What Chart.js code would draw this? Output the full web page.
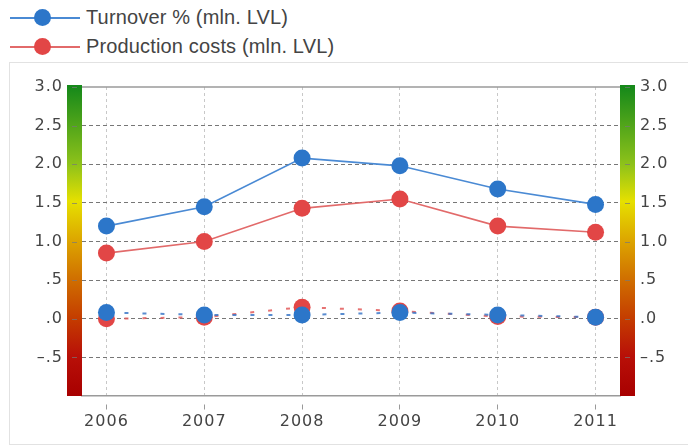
<!DOCTYPE html>
<html>
<head>
<meta charset="utf-8">
<script src="https://cdn.jsdelivr.net/npm/chart.js@4.4.1/dist/chart.umd.min.js"></script>
<style>
    body { margin:0; background:#fff; width:688px; height:446px; overflow:hidden; position:relative; font-family:"Liberation Sans", Arial, sans-serif; }
    .panel { position:absolute; left:9px; top:62px; width:700px; height:383px; border:1px solid #e2e2e2; box-sizing:border-box; }
    .legend { position:absolute; left:10px; top:3px; }
    .legend-item { display:flex; align-items:center; height:29px; font-size:20px; letter-spacing:0.15px; color:#444; }
    .swatch { position:relative; width:70px; height:18px; margin-right:6px; }
    .swatch .ln { position:absolute; left:0; right:0; top:8px; height:2px; }
    .swatch .dot { position:absolute; left:24px; top:0; width:17px; height:17px; border-radius:50%; }
    #wrap { position:absolute; left:0; top:0; width:688px; height:446px; }
</style>
</head>
<body>
<div class="panel"></div>
<div class="legend">
    <div class="legend-item"><div class="swatch"><div class="ln" style="background:#4a8ad4"></div><div class="dot" style="background:#2c76c9"></div></div>Turnover % (mln. LVL)</div>
    <div class="legend-item"><div class="swatch"><div class="ln" style="background:#e26a6a"></div><div class="dot" style="background:#e24646"></div></div>Production costs (mln. LVL)</div>
</div>
<div id="wrap"><canvas id="chart"></canvas></div>
<script>
// ===== data =====
const years = [2006, 2007, 2008, 2009, 2010, 2011];
const turnover = [1.2, 1.45, 2.08, 1.98, 1.68, 1.48];
const costs = [0.85, 1.0, 1.43, 1.55, 1.2, 1.12];
const turnoverLow = [0.08, 0.05, 0.05, 0.08, 0.05, 0.02];
const costsLow = [0.0, 0.02, 0.15, 0.1, 0.03, 0.02];
const yTicks = [-1.0, -0.5, 0.0, 0.5, 1.0, 1.5, 2.0, 2.5, 3.0];

const BLUE = '#2c76c9', RED = '#e24646';
const pts = arr => arr.map((v, i) => ({ x: years[i], y: v }));

function tickLabel(v) {
    if (v === -1) return '';
    let s = Math.abs(v).toFixed(1);
    if (s.startsWith('0')) s = s.slice(1);
    return (v < 0 ? '\u2013' : '') + s;
}

// gradient bars on both sides + frame lines
const framePlugin = {
    id: 'frame',
    beforeDraw(chart) {
        chart.ctx.letterSpacing = '1px';
    },
    beforeDatasetsDraw(chart) {
        const { ctx, chartArea: a, scales } = chart;
        const y = scales.y;
        const barW = 15;
        const grad = ctx.createLinearGradient(0, a.top, 0, a.bottom);
        grad.addColorStop(0, '#16891a');
        grad.addColorStop(0.25, '#8ec21a');
        grad.addColorStop(0.37, '#e6e000');
        grad.addColorStop(0.5, '#dca400');
        grad.addColorStop(0.62, '#d07000');
        grad.addColorStop(0.75, '#c43c00');
        grad.addColorStop(0.87, '#b81008');
        grad.addColorStop(1, '#a80000');
        ctx.save();
        ctx.fillStyle = grad;
        ctx.fillRect(a.left - barW, a.top - 2, barW, a.bottom - a.top + 2);
        ctx.fillRect(a.right, a.top - 2, barW, a.bottom - a.top + 2);
        // small tick marks inside the bars
        ctx.strokeStyle = 'rgba(120,120,120,0.7)';
        ctx.lineWidth = 1;
        yTicks.forEach(t => {
            if (t === -1) return;
            const py = Math.round(y.getPixelForValue(t)) + 0.5;
            ctx.beginPath();
            ctx.moveTo(a.left - 10, py); ctx.lineTo(a.left - 5, py);
            ctx.moveTo(a.right + 5, py); ctx.lineTo(a.right + 10, py);
            ctx.stroke();
        });
        // solid top line
        ctx.strokeStyle = '#9a9a9a';
        ctx.lineWidth = 1.5;
        const top = y.getPixelForValue(3);
        ctx.beginPath();
        ctx.moveTo(a.left, top); ctx.lineTo(a.right, top);
        ctx.stroke();
        ctx.restore();
    }
};

const yTickOpts = {
    color: '#444',
    font: { family: 'DejaVu Sans', size: 16 },
    stepSize: 0.5,
    callback: v => tickLabel(v)
};

// Chart.js paints the first dataset on top, so the blue series come first
new Chart(document.getElementById('chart'), {
    type: 'line',
    data: {
        datasets: [
            {
                data: pts(turnover), yAxisID: 'y',
                borderColor: '#4a8ad4', borderWidth: 1.7,
                pointRadius: 8.5, pointBackgroundColor: BLUE, pointBorderWidth: 0
            },
            {
                data: pts(costs), yAxisID: 'y',
                borderColor: '#e26a6a', borderWidth: 1.7,
                pointRadius: 8.5, pointBackgroundColor: RED, pointBorderWidth: 0
            },
            {
                data: pts(turnoverLow), yAxisID: 'y',
                borderColor: 'rgba(60,120,200,0.85)', borderWidth: 2, borderDash: [4, 14],
                pointRadius: 8.5, pointBackgroundColor: BLUE, pointBorderWidth: 0
            },
            {
                data: pts(costsLow), yAxisID: 'y',
                borderColor: 'rgba(226,90,90,0.85)', borderWidth: 2, borderDash: [4, 14],
                pointRadius: 8.5, pointBackgroundColor: RED, pointBorderWidth: 0
            }
        ]
    },
    options: {
        responsive: true, maintainAspectRatio: false, animation: false,
        layout: { padding: { top: 87, left: 0, right: 0, bottom: 0 } },
        plugins: { legend: { display: false }, tooltip: { enabled: false } },
        scales: {
            x: {
                type: 'linear', min: 2005.75, max: 2011.25,
                afterBuildTicks: s => { s.ticks = years.map(v => ({ value: v })); },
                afterFit: s => { s.height = 50; },
                grid: {
                    color: '#c8c8c8', lineWidth: 1, borderDash: [3, 3],
                    drawTicks: true, tickLength: 14, tickColor: '#999',
                    tickBorderDash: [0, 8, 5, 40]
                },
                border: { display: true, color: '#9a9a9a', width: 1.5, dash: [3, 3] },
                ticks: {
                    color: '#444', padding: 2,
                    font: { family: 'DejaVu Sans', size: 16 },
                    callback: v => String(v)
                }
            },
            y: {
                position: 'left', min: -1, max: 3,
                afterBuildTicks: s => { s.ticks = yTicks.map(v => ({ value: v })); },
                afterFit: s => { s.width = 82; },
                grid: {
                    color: ctx => (ctx.tick && (ctx.tick.value === 3 || ctx.tick.value === -1)) ? 'transparent' : '#777',
                    lineWidth: 1, borderDash: [4, 3], drawTicks: false
                },
                border: { display: false, dash: [4, 3] },
                ticks: Object.assign({ padding: 19 }, yTickOpts)
            },
            y2: {
                position: 'right', min: -1, max: 3,
                afterBuildTicks: s => { s.ticks = yTicks.map(v => ({ value: v })); },
                afterFit: s => { s.width = 68; },
                grid: { display: false, drawTicks: false },
                border: { display: false },
                ticks: Object.assign({ padding: 20 }, yTickOpts)
            }
        }
    },
    plugins: [framePlugin]
});
</script>
</body>
</html>
